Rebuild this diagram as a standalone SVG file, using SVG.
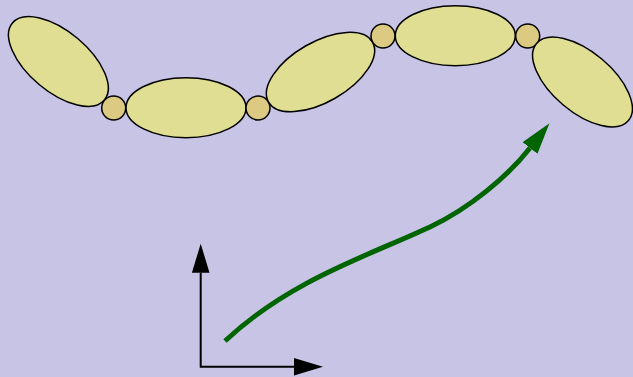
<svg xmlns="http://www.w3.org/2000/svg" width="633" height="377" viewBox="0 0 633 377">
<style>
.lobe{fill:#e0de92;stroke:#000;stroke-width:1.5}
.bead{fill:#dcc982;stroke:#000;stroke-width:1.5}
</style>
<defs>
<marker id="ga" markerUnits="userSpaceOnUse" markerWidth="34" markerHeight="22" viewBox="0 -11 34 22" refX="0" refY="0" orient="auto">
<path d="M0,-9.5 L31.5,0 L0,9.5 z" fill="#006400"/>
</marker>
<marker id="ka" markerUnits="userSpaceOnUse" markerWidth="32" markerHeight="20" viewBox="0 -10 32 20" refX="0" refY="0" orient="auto-start-reverse">
<path d="M0,-8.8 L29,0 L0,8.8 z" fill="#000"/>
</marker>
</defs>
<rect width="633" height="377" fill="#c8c4e6"/>
<g id="chain">
<g id="lobe1"><ellipse class="lobe" cx="0" cy="0" rx="60" ry="30" transform="translate(58.4,61.5) rotate(40)"/></g>
<g id="bead1"><circle class="bead" cx="113.7" cy="108" r="12"/></g>
<g id="lobe2"><ellipse class="lobe" cx="186" cy="107.7" rx="60" ry="30"/></g>
<g id="bead2"><circle class="bead" cx="258" cy="108" r="12"/></g>
<g id="lobe3"><ellipse class="lobe" cx="0" cy="0" rx="60" ry="30" transform="translate(320.5,72) rotate(-30)"/></g>
<g id="bead3"><circle class="bead" cx="383" cy="36" r="12"/></g>
<g id="lobe4"><ellipse class="lobe" cx="455.3" cy="35.7" rx="60" ry="30"/></g>
<g id="bead4"><circle class="bead" cx="527.7" cy="36" r="12"/></g>
<g id="lobe5"><ellipse class="lobe" cx="0" cy="0" rx="60" ry="30" transform="translate(582.5,82) rotate(40)"/></g>
</g>
<g id="connectors">
<path d="M225,341 C290,280 370,255 430,227 C470,208 508,176 530,148" fill="none" stroke="#006400" stroke-width="5" marker-end="url(#ga)"/>
<polyline points="200.7,272.7 200.7,366.7 294,366.7" fill="none" stroke="#000" stroke-width="2" marker-start="url(#ka)" marker-end="url(#ka)"/>
</g>
</svg>
